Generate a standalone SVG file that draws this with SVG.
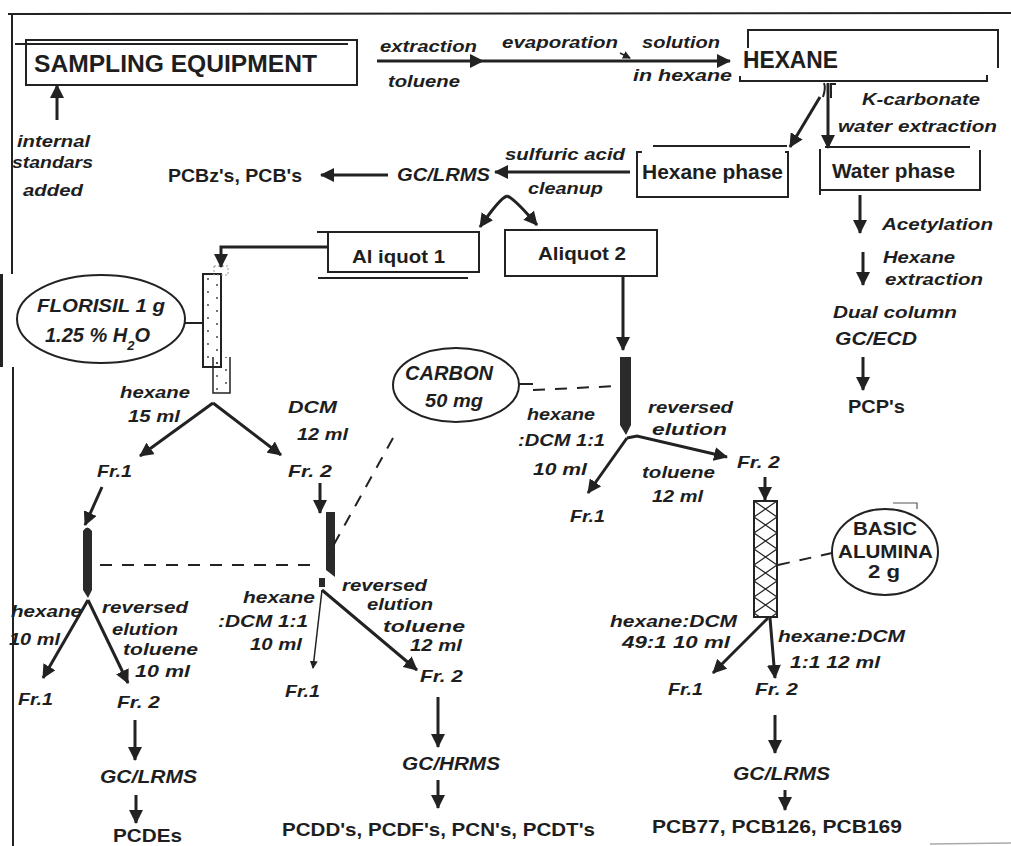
<svg xmlns="http://www.w3.org/2000/svg" width="1011" height="846" viewBox="0 0 1011 846">
<style>
.n{font-family:"Liberation Sans",Arial,sans-serif;font-weight:bold;font-size:19px;fill:#1e1e1e}
.l{font-family:"Liberation Sans",Arial,sans-serif;font-weight:bold;font-style:italic;font-size:17px;fill:#1e1e1e}
.ln{fill:none;stroke:#222;stroke-width:2}
.ar{fill:none;stroke:#222;stroke-width:3;marker-end:url(#ah)}
.as{fill:none;stroke:#222;stroke-width:1.5;marker-end:url(#sm)}
.ds{fill:none;stroke:#222;stroke-width:2;stroke-dasharray:12 10}
.col{fill:#2a2a2a;stroke:none}
</style>
<defs>
<marker id="ah" viewBox="0 0 14 14" refX="13" refY="7" markerWidth="14" markerHeight="14" markerUnits="userSpaceOnUse" orient="auto"><path d="M0,0L14,7L0,14z" fill="#222"/></marker>
<marker id="sm" viewBox="0 0 8 8" refX="7" refY="4" markerWidth="8" markerHeight="8" markerUnits="userSpaceOnUse" orient="auto"><path d="M0,0L8,4L0,8z" fill="#222"/></marker>
<pattern id="hatch" patternUnits="userSpaceOnUse" x="754" y="501" width="23" height="16"><path d="M0,0L23,16M23,0L0,16" stroke="#222" stroke-width="1.2"/></pattern>
<pattern id="dots" patternUnits="userSpaceOnUse" x="203" y="274" width="18" height="13"><circle cx="5" cy="5" r="0.9" fill="#333"/><circle cx="14" cy="11" r="0.9" fill="#333"/></pattern>
</defs>
<rect width="1011" height="846" fill="#fff"/>
<g id="frame">
<path d="M8,14L1011,13" class="ln" stroke-width="3"/>
<path d="M12,14L12,274M13,367L13,846" class="ln" stroke-width="3"/>
<rect x="0" y="274" width="3" height="93" fill="#222"/>
<path d="M930,844L1011,843" stroke="#aaa" stroke-width="1.5"/>
</g>
<g id="sampling">
<rect x="26" y="40" width="331" height="45" class="ln"/>
<path d="M15,44L348,44" class="ln"/>
<text class="n" x="34" y="72" style="font-size:24px" textLength="283" lengthAdjust="spacingAndGlyphs">SAMPLING EQUIPMENT</text>
</g>
<g id="standards">
<text class="l" x="17" y="147" textLength="73" lengthAdjust="spacingAndGlyphs">internal</text>
<text class="l" x="12" y="168" textLength="81" lengthAdjust="spacingAndGlyphs">standars</text>
<text class="l" x="23" y="196" textLength="60" lengthAdjust="spacingAndGlyphs">added</text>
</g>
<g id="hexane">
<path d="M748,48L748,30L998,30L998,68" class="ln"/>
<path d="M740,76L740,81L987,81L987,75" class="ln"/>
<text class="n" x="743" y="68" style="font-size:23px" textLength="95" lengthAdjust="spacingAndGlyphs">HEXANE</text>
</g>
<g id="hexane-phase">
<path d="M642,152L637,152L637,197L788,197L788,152L785,152M653,146L787,146" class="ln"/>
<text class="n" x="642" y="179" style="font-size:20px" textLength="141" lengthAdjust="spacingAndGlyphs">Hexane phase</text>
</g>
<g id="water-phase">
<path d="M820,149L820,195M820,190L980,190L980,150M825,147L970,147" class="ln"/>
<text class="n" x="832" y="178" style="font-size:20px" textLength="123" lengthAdjust="spacingAndGlyphs">Water phase</text>
</g>
<g id="gclrms1">
<text class="l" x="397" y="181" style="font-size:19px" textLength="93" lengthAdjust="spacingAndGlyphs">GC/LRMS</text>
</g>
<g id="pcbz">
<text class="n" x="168" y="182" textLength="134" lengthAdjust="spacingAndGlyphs">PCBz's, PCB's</text>
</g>
<g id="aliquot1">
<path d="M317,232L479,232L479,272L328,272L328,232M318,278L468,278" class="ln"/>
<text class="n" x="352" y="263" textLength="93" lengthAdjust="spacingAndGlyphs">Al iquot 1</text>
</g>
<g id="aliquot2">
<rect x="505" y="230" width="152" height="46" class="ln"/>
<text class="n" x="538" y="260" textLength="88" lengthAdjust="spacingAndGlyphs">Aliquot 2</text>
</g>
<g id="water-branch">
<text class="l" x="882" y="230" textLength="111" lengthAdjust="spacingAndGlyphs">Acetylation</text>
<text class="l" x="883" y="263" textLength="72" lengthAdjust="spacingAndGlyphs">Hexane</text>
<text class="l" x="885" y="285" textLength="98" lengthAdjust="spacingAndGlyphs">extraction</text>
<text class="l" x="833" y="318" textLength="124" lengthAdjust="spacingAndGlyphs">Dual column</text>
<text class="l" x="835" y="345" style="font-size:19px" textLength="82" lengthAdjust="spacingAndGlyphs">GC/ECD</text>
<text class="n" x="848" y="413" textLength="57" lengthAdjust="spacingAndGlyphs">PCP's</text>
</g>
<g id="florisil">
<ellipse cx="101" cy="319" rx="84" ry="44" class="ln"/>
<text class="l" x="37" y="312" style="font-size:19px" textLength="128" lengthAdjust="spacingAndGlyphs">FLORISIL 1 g</text>
<text class="l" x="45" y="342" style="font-size:20px">1.25 % H<tspan dy="8" style="font-size:13px">2</tspan><tspan dy="-8">O</tspan></text>
<path d="M185,323L203,323" class="ln"/>
<rect x="203" y="274" width="18" height="93" fill="url(#dots)" stroke="#222" stroke-width="2"/>
<path d="M213,357L213,393L230,393L230,357" fill="url(#dots)" stroke="#222" stroke-width="1.5"/>
<rect x="214" y="266" width="14" height="9" fill="none" stroke="#999" stroke-width="1" stroke-dasharray="2 2"/>
</g>
<g id="carbon">
<ellipse cx="456" cy="385" rx="63" ry="37" class="ln"/>
<text class="l" x="405" y="380" style="font-size:20px" textLength="88" lengthAdjust="spacingAndGlyphs">CARBON</text>
<text class="l" x="425" y="407" style="font-size:19px" textLength="58" lengthAdjust="spacingAndGlyphs">50 mg</text>
</g>
<g id="alumina">
<ellipse cx="885" cy="552" rx="53" ry="43" class="ln"/>
<path d="M893,503L917,503L917,509" fill="none" stroke="#555" stroke-width="1.2"/>
<text class="n" x="853" y="535" textLength="64" lengthAdjust="spacingAndGlyphs">BASIC</text>
<text class="n" x="838" y="558" textLength="95" lengthAdjust="spacingAndGlyphs">ALUMINA</text>
<text class="n" x="868" y="578" textLength="32" lengthAdjust="spacingAndGlyphs">2 g</text>
<rect x="754" y="501" width="23" height="116" fill="url(#hatch)" stroke="#222" stroke-width="2"/>
</g>
<g id="columns">
<path class="col" d="M620,357L631,357L631,425L626,435L620,425z"/>
<path class="col" d="M83,531Q87,524 92,531L92,590L88,598L83,590z"/>
<path class="col" d="M326,512L335,512L335,577L326,570z"/>
<rect class="col" x="319" y="578" width="6" height="9"/>
</g>
<g id="labels">
<text class="l" x="380" y="52" textLength="97" lengthAdjust="spacingAndGlyphs">extraction</text>
<text class="l" x="388" y="87" textLength="72" lengthAdjust="spacingAndGlyphs">toluene</text>
<text class="l" x="502" y="48" textLength="116" lengthAdjust="spacingAndGlyphs">evaporation</text>
<text class="l" x="642" y="48" textLength="78" lengthAdjust="spacingAndGlyphs">solution</text>
<text class="l" x="633" y="81" textLength="99" lengthAdjust="spacingAndGlyphs">in hexane</text>
<text class="l" x="862" y="105" textLength="118" lengthAdjust="spacingAndGlyphs">K-carbonate</text>
<text class="l" x="838" y="132" textLength="159" lengthAdjust="spacingAndGlyphs">water extraction</text>
<text class="l" x="505" y="160" textLength="120" lengthAdjust="spacingAndGlyphs">sulfuric acid</text>
<text class="l" x="528" y="194" textLength="75" lengthAdjust="spacingAndGlyphs">cleanup</text>
<text class="l" x="120" y="398" textLength="70" lengthAdjust="spacingAndGlyphs">hexane</text>
<text class="l" x="128" y="422" textLength="52" lengthAdjust="spacingAndGlyphs">15 ml</text>
<text class="l" x="288" y="413" textLength="49" lengthAdjust="spacingAndGlyphs">DCM</text>
<text class="l" x="297" y="440" textLength="51" lengthAdjust="spacingAndGlyphs">12 ml</text>
<text class="l" x="97" y="477" textLength="35" lengthAdjust="spacingAndGlyphs">Fr.1</text>
<text class="l" x="288" y="477" textLength="44" lengthAdjust="spacingAndGlyphs">Fr. 2</text>
<text class="l" x="11" y="617" textLength="71" lengthAdjust="spacingAndGlyphs">hexane</text>
<text class="l" x="9" y="645" textLength="51" lengthAdjust="spacingAndGlyphs">10 ml</text>
<text class="l" x="102" y="613" textLength="86" lengthAdjust="spacingAndGlyphs">reversed</text>
<text class="l" x="112" y="635" textLength="66" lengthAdjust="spacingAndGlyphs">elution</text>
<text class="l" x="123" y="655" textLength="75" lengthAdjust="spacingAndGlyphs">toluene</text>
<text class="l" x="135" y="677" textLength="55" lengthAdjust="spacingAndGlyphs">10 ml</text>
<text class="l" x="18" y="705" textLength="35" lengthAdjust="spacingAndGlyphs">Fr.1</text>
<text class="l" x="117" y="708" textLength="43" lengthAdjust="spacingAndGlyphs">Fr. 2</text>
<text class="l" x="100" y="783" style="font-size:19px" textLength="97" lengthAdjust="spacingAndGlyphs">GC/LRMS</text>
<text class="n" x="113" y="842" textLength="69" lengthAdjust="spacingAndGlyphs">PCDEs</text>
<text class="l" x="243" y="603" textLength="72" lengthAdjust="spacingAndGlyphs">hexane</text>
<text class="l" x="218" y="627" textLength="90" lengthAdjust="spacingAndGlyphs">:DCM 1:1</text>
<text class="l" x="250" y="650" textLength="52" lengthAdjust="spacingAndGlyphs">10 ml</text>
<text class="l" x="342" y="591" style="font-size:16px" textLength="85" lengthAdjust="spacingAndGlyphs">reversed</text>
<text class="l" x="367" y="610" style="font-size:16px" textLength="66" lengthAdjust="spacingAndGlyphs">elution</text>
<text class="l" x="383" y="632" textLength="82" lengthAdjust="spacingAndGlyphs">toluene</text>
<text class="l" x="410" y="651" textLength="52" lengthAdjust="spacingAndGlyphs">12 ml</text>
<text class="l" x="285" y="697" textLength="35" lengthAdjust="spacingAndGlyphs">Fr.1</text>
<text class="l" x="420" y="682" textLength="43" lengthAdjust="spacingAndGlyphs">Fr. 2</text>
<text class="l" x="402" y="770" style="font-size:19px" textLength="98" lengthAdjust="spacingAndGlyphs">GC/HRMS</text>
<text class="n" x="282" y="836" textLength="313" lengthAdjust="spacingAndGlyphs">PCDD's, PCDF's, PCN's, PCDT's</text>
<text class="l" x="527" y="420" textLength="68" lengthAdjust="spacingAndGlyphs">hexane</text>
<text class="l" x="518" y="446" textLength="87" lengthAdjust="spacingAndGlyphs">:DCM 1:1</text>
<text class="l" x="533" y="475" textLength="54" lengthAdjust="spacingAndGlyphs">10 ml</text>
<text class="l" x="648" y="413" textLength="85" lengthAdjust="spacingAndGlyphs">reversed</text>
<text class="l" x="652" y="435" textLength="75" lengthAdjust="spacingAndGlyphs">elution</text>
<text class="l" x="642" y="478" textLength="73" lengthAdjust="spacingAndGlyphs">toluene</text>
<text class="l" x="652" y="502" textLength="51" lengthAdjust="spacingAndGlyphs">12 ml</text>
<text class="l" x="570" y="522" textLength="35" lengthAdjust="spacingAndGlyphs">Fr.1</text>
<text class="l" x="737" y="468" textLength="43" lengthAdjust="spacingAndGlyphs">Fr. 2</text>
<text class="l" x="610" y="627" textLength="127" lengthAdjust="spacingAndGlyphs">hexane:DCM</text>
<text class="l" x="622" y="648" textLength="108" lengthAdjust="spacingAndGlyphs">49:1  10 ml</text>
<text class="l" x="778" y="642" textLength="127" lengthAdjust="spacingAndGlyphs">hexane:DCM</text>
<text class="l" x="790" y="668" textLength="90" lengthAdjust="spacingAndGlyphs">1:1 12 ml</text>
<text class="l" x="668" y="695" textLength="35" lengthAdjust="spacingAndGlyphs">Fr.1</text>
<text class="l" x="755" y="695" textLength="43" lengthAdjust="spacingAndGlyphs">Fr. 2</text>
<text class="l" x="733" y="780" style="font-size:19px" textLength="97" lengthAdjust="spacingAndGlyphs">GC/LRMS</text>
<text class="n" x="652" y="833" textLength="250" lengthAdjust="spacingAndGlyphs">PCB77, PCB126, PCB169</text>
</g>
<g id="connectors">
<path class="ar" d="M57,120L57,85"/>
<path class="ar" d="M377,61L483,61"/>
<path class="ar" d="M483,61L730,61"/>
<path class="as" d="M620,53L630,58"/>
<path class="ln" d="M823,97Q826,88 824,83M831,98L831,84L836,84" stroke-width="1.5"/>
<path class="ar" d="M820,97L790,147"/>
<path class="ar" d="M828,83L828,148"/>
<path class="ar" d="M630,172L495,172"/>
<path class="ar" d="M388,175L321,175"/>
<path class="ar" d="M507,196Q500,198 480,227"/>
<path class="ar" d="M507,196Q514,198 537,225"/>
<path class="ar" d="M328,247L221,247L221,267" stroke-width="2.5"/>
<path class="ar" d="M623,276L623,350"/>
<path class="ar" d="M627,438L588,493"/>
<path class="ar" d="M627,438L637,436L727,457"/>
<path class="ar" d="M765,477L765,500"/>
<path class="ar" d="M768,618L713,673"/>
<path class="ar" d="M770,618L775,678"/>
<path class="ar" d="M775,715L775,753"/>
<path class="ar" d="M785,790L785,810" stroke="#555"/>
<path class="ar" d="M860,195L860,233"/>
<path class="ar" d="M863,252L863,285"/>
<path class="ar" d="M863,357L863,390"/>
<path class="ar" d="M213,403L140,456"/>
<path class="ar" d="M213,403L281,455"/>
<path class="ar" d="M102,487L85,525"/>
<path class="ar" d="M320,483L320,513"/>
<path class="ar" d="M88,600L43,678"/>
<path class="ar" d="M88,600L128,683"/>
<path class="as" d="M322,590L313,668"/>
<path class="ar" d="M322,590L417,670"/>
<path class="ar" d="M135,720L135,760"/>
<path class="ar" d="M136,795L136,823"/>
<path class="ar" d="M438,697L438,747"/>
<path class="ar" d="M438,780L438,808"/>
<path class="ln" d="M519,384L533,384"/>
<path class="ds" d="M533,390L618,386"/>
<path class="ds" d="M393,438L328,555"/>
<path class="ds" d="M100,565L320,565"/>
<path class="ds" d="M778,565L832,553"/>
</g>
</svg>
